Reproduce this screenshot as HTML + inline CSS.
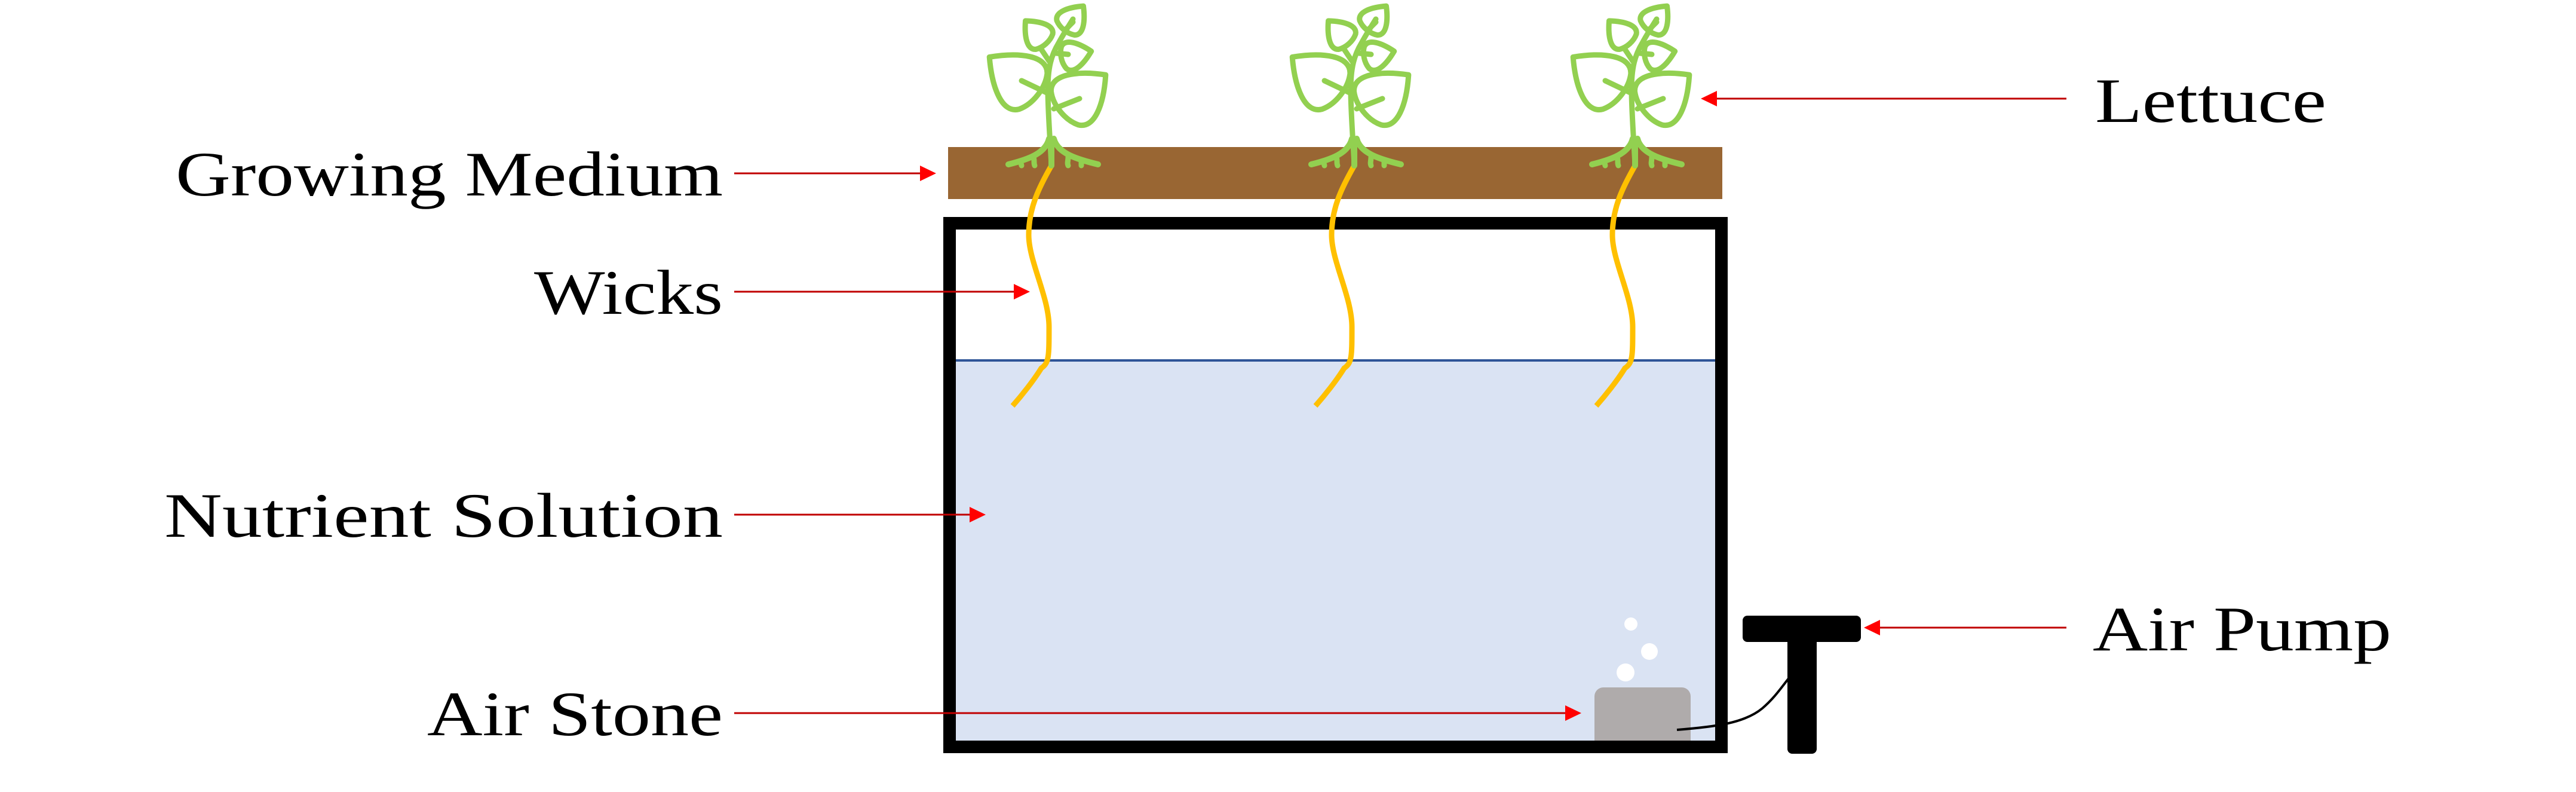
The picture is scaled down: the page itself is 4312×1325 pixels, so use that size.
<!DOCTYPE html>
<html><head><meta charset="utf-8"><style>
html,body{margin:0;padding:0;background:#fff;}
svg{display:block;}
text{font-family:"Liberation Serif",serif;font-size:106px;fill:#000;}
</style></head><body>
<svg width="4312" height="1325" viewBox="0 0 4312 1325" xmlns="http://www.w3.org/2000/svg">
<defs>
<path id="leafB" d="M0,-100 C-38,-65 -62,-25 -38,-7 C-17,6 17,6 38,-7 C62,-25 38,-65 0,-100 Z"/>
<path id="leafS" d="M0,-50 C-19,-32 -31,-12 -19,-3 C-8,3 8,3 19,-3 C31,-12 19,-32 0,-50 Z"/>
<g id="plant" fill="none" stroke="#92d050" stroke-width="9" stroke-linecap="round" stroke-linejoin="round">
  <path d="M0,0 C-2,-40 -6,-90 -6,-127 C-6,-165 0,-185 12,-205 C20,-220 28,-232 36,-245"/>
  <path d="M-8,-122 L-50,-142"/>
  <path d="M4,-95 L47,-112"/>
  <path d="M-4,-175 L-18,-196"/>
  <path d="M8,-188 L28,-186"/>
  <path d="M22,-226 L36,-240"/>
  <use href="#leafB" transform="translate(-25,-120) rotate(-52)"/>
  <use href="#leafB" transform="translate(17,-92) rotate(51) scale(0.95)" stroke-width="9.5"/>
  <use href="#leafS" transform="translate(-10,-205) rotate(-42)"/>
  <use href="#leafS" transform="translate(18,-180) rotate(77)"/>
  <use href="#leafS" transform="translate(22,-228) rotate(39)"/>
  <path d="M-4,-45 C-10,-20 -40,-10 -72,-2" stroke-width="10"/>
  <path d="M4,-45 C10,-20 45,-10 78,-2" stroke-width="10"/>
  <path d="M0,-40 L0,0" stroke-width="10"/>
  <path d="M-30,-14 C-28,-8 -30,-4 -28,0"/>
  <path d="M-52,-8 L-50,0"/>
  <path d="M28,-14 C28,-8 26,-4 28,0"/>
  <path d="M50,-8 L50,0"/>
</g>
<path id="wick" d="M0,0 C-20,35 -38,70 -38,116 C-38,160 -4,220 -4,270 C-4,320 -4,330 -17,339 C-30,360 -50,385 -65,402" fill="none" stroke="#ffc000" stroke-width="9"/>
</defs>

<!-- water -->
<rect x="1600" y="603" width="1271" height="636" fill="#dae3f3"/>
<rect x="1600" y="601" width="1271" height="4" fill="#2f5597"/>

<!-- air stone & bubbles -->
<rect x="2669" y="1150" width="161" height="105" rx="15" fill="#afabab"/>
<ellipse cx="2730" cy="1044" rx="11" ry="11" fill="#fff"/>
<ellipse cx="2761" cy="1090" rx="14" ry="14" fill="#fff"/>
<ellipse cx="2721" cy="1125" rx="15" ry="15" fill="#fff"/>

<!-- tank -->
<path d="M1579,363 H2892 V1260 H1579 Z M1600,384 V1239 H2871 V384 Z" fill="#000" fill-rule="evenodd"/>

<!-- growing medium -->
<rect x="1587" y="246" width="1296" height="87" fill="#996633"/>

<!-- wicks -->
<use href="#wick" x="1760" y="277"/>
<use href="#wick" x="2267" y="277"/>
<use href="#wick" x="2737" y="277"/>

<!-- plants -->
<use href="#plant" x="1760" y="277"/>
<use href="#plant" x="2267" y="277"/>
<use href="#plant" x="2737" y="277"/>

<!-- air pump -->
<rect x="2917" y="1030" width="198" height="44" rx="8" fill="#000"/>
<rect x="2992" y="1060" width="49" height="201" rx="8" fill="#000"/>
<path d="M2807,1221 C2870,1216 2920,1210 2950,1185 C2970,1168 2982,1150 2994,1135" fill="none" stroke="#000" stroke-width="4"/>

<!-- arrows -->
<g stroke="#c00000" stroke-width="3">
  <line x1="1229" y1="290" x2="1542" y2="290"/>
  <line x1="1229" y1="488" x2="1700" y2="488"/>
  <line x1="1229" y1="861" x2="1625" y2="861"/>
  <line x1="1229" y1="1193" x2="2622" y2="1193"/>
  <line x1="3459" y1="165" x2="2872" y2="165"/>
  <line x1="3459" y1="1050" x2="3145" y2="1050"/>
</g>
<g fill="#ff0000">
  <polygon points="1567,290 1540,277 1540,303"/>
  <polygon points="1724,488 1697,475 1697,501"/>
  <polygon points="1650,861 1623,848 1623,874"/>
  <polygon points="2647,1193 2620,1180 2620,1206"/>
  <polygon points="2847,165 2874,152 2874,178"/>
  <polygon points="3120,1050 3147,1037 3147,1063"/>
</g>

<!-- labels -->
<text x="294" y="327" textLength="916" lengthAdjust="spacingAndGlyphs">Growing Medium</text>
<text x="894" y="525" textLength="316" lengthAdjust="spacingAndGlyphs">Wicks</text>
<text x="275" y="898" textLength="935" lengthAdjust="spacingAndGlyphs">Nutrient Solution</text>
<text x="715" y="1230" textLength="495" lengthAdjust="spacingAndGlyphs">Air Stone</text>
<text x="3507" y="204" textLength="387" lengthAdjust="spacingAndGlyphs">Lettuce</text>
<text x="3503" y="1088" textLength="500" lengthAdjust="spacingAndGlyphs">Air Pump</text>
</svg>
</body></html>
